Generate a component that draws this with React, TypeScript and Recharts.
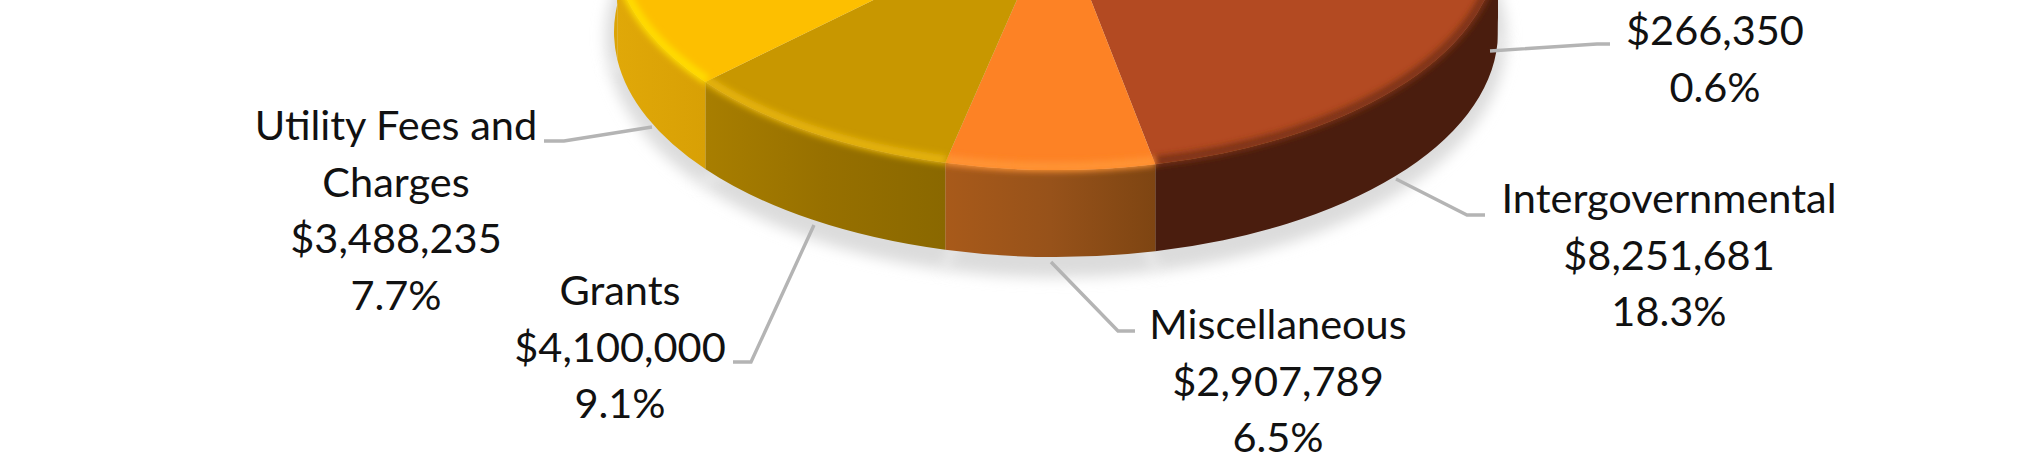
import React from 'react';
import { PieChart, Pie } from 'recharts';

// slices run clockwise starting right of the front of the pie; the last one is the part cut off by the crop
const categories = ['', 'Intergovernmental', 'Miscellaneous', 'Grants', 'Utility Fees and Charges', 'Other'];
const amounts = [266350, 8251681, 2907789, 4100000, 3488235, 26000000];
const amountLabels = ['$266,350', '$8,251,681', '$2,907,789', '$4,100,000', '$3,488,235', ''];
const percentLabels = ['0.6%', '18.3%', '6.5%', '9.1%', '7.7%', ''];

const topColors = ['#B34A22', '#B34A22', '#FD8225', '#C89700', '#FDBF00', '#FDBF00'];
const rimColors = ['#7A3014', '#7A3014', '#FF9436', '#E6B410', '#FFDD00', '#FFDD00'];
const sideStops = [
  [[0, '#4A1D0E'], [1, '#4A1D0E']],
  [[0, '#4A1D0E'], [1, '#4A1D0E']],
  [[0, '#A85A1A'], [0.5, '#97521A'], [1, '#7E4512']],
  [[0, '#A87E00'], [0.5, '#977000'], [1, '#8A6800']],
  [[0, '#E0A808'], [1, '#D8A005']],
  [[0, '#DCA406'], [0.5, '#DCA406'], [0.5, '#4A1D0E'], [1, '#4A1D0E']],
];

const data = categories.map((name, i) => ({ name, amount: amounts[i] }));

const WIDTH = 2028;
const HEIGHT = 472;
const CX = 1056;
const APEX_Y = -89;
const RX = 442;
const CY_TOP = -55;
const CY_BOTTOM = 32;
const RY = 225;
const START_ANGLE = -10.9;

// text blocks: centre x and baseline of the first line
const labelLayout = [
  { x: 1715, y: 45 },
  { x: 1669, y: 213 },
  { x: 1278, y: 339 },
  { x: 620, y: 305 },
  { x: 396, y: 140 },
];
const leaders = [
  '1610,44 1597,44 1490,51',
  '1485,215 1467,215 1396,179',
  '1135,331 1118,331 1051,262',
  '733,362 751,362 814,225',
  '544,141 564,141 652,127',
];

// perspective: the front of the pie looks wider than the back
const warp = (deg: number) => {
  const d = deg + 90;
  return -90 + d + 10.5 * Math.sin((d * Math.PI) / 180);
};

const pt = (deg: number, cy: number, rx: number, ry: number) => {
  const t = (warp(deg) * Math.PI) / 180;
  return `${CX + rx * Math.cos(t)} ${cy - ry * Math.sin(t)}`;
};

const arcTo = (deg: number, cy: number, rx: number, ry: number, large: number, sweep: number) =>
  `A ${rx} ${ry} 0 ${large} ${sweep} ${pt(deg, cy, rx, ry)}`;

const isLarge = (a: number, b: number) => (Math.abs(warp(a) - warp(b)) > 180 ? 1 : 0);

function ShadowShape(props: any) {
  const { startAngle: a, endAngle: b } = props;
  const rx = RX + 8;
  const ry = RY + 15;
  const cy = CY_BOTTOM + 5;
  const d = `M ${CX} ${cy} L ${pt(a, cy, rx, ry)} ${arcTo(b, cy, rx, ry, isLarge(a, b), 1)} Z`;
  return <path d={d} fill="#dcdcdc" stroke="#dcdcdc" filter="url(#soft-shadow)" />;
}

function SideShape(props: any) {
  const { startAngle: a, endAngle: b, index } = props;
  const large = isLarge(a, b);
  const d = [
    `M ${pt(a, CY_TOP, RX, RY)}`,
    arcTo(b, CY_TOP, RX, RY, large, 1),
    `L ${pt(b, CY_BOTTOM, RX, RY)}`,
    arcTo(a, CY_BOTTOM, RX, RY, large, 0),
    'Z',
  ].join(' ');
  return <path d={d} fill={`url(#side-${index})`} />;
}

function TopShape(props: any) {
  const { startAngle: a, endAngle: b, index } = props;
  const large = isLarge(a, b);
  const face = `M ${CX} ${APEX_Y} L ${pt(a, CY_TOP, RX, RY)} ${arcTo(b, CY_TOP, RX, RY, large, 1)} Z`;
  const rim = `M ${pt(a, CY_TOP, RX - 2, RY - 3)} ${arcTo(b, CY_TOP, RX - 2, RY - 3, large, 1)}`;
  return (
    <g>
      <path d={face} fill={topColors[index]} />
      <path d={rim} fill="none" stroke={rimColors[index]} strokeWidth={9} filter="url(#soft-rim)" />
    </g>
  );
}

function renderLabel(props: any) {
  const layout = labelLayout[props.index];
  if (!layout) return null;
  const i = props.index;
  const names = i === 4 ? ['Utility Fees and', 'Charges'] : [categories[i]];
  const rows = i === 0 ? [amountLabels[i], percentLabels[i]] : [...names, amountLabels[i], percentLabels[i]];
  return (
    <g>
      <polyline points={leaders[i]} fill="none" stroke="#b4b4b4" strokeWidth={3.4} />
      <text textAnchor="middle" fontFamily="Lato" fontSize={41.5} fill="#111111">
        {rows.map((row, r) => (
          <tspan key={r} x={layout.x} y={layout.y + r * 56.5}>
            {row}
          </tspan>
        ))}
      </text>
    </g>
  );
}

export default function App() {
  const pieProps = {
    data,
    dataKey: 'amount',
    nameKey: 'name',
    cx: CX,
    cy: CY_TOP,
    outerRadius: RX,
    startAngle: START_ANGLE,
    endAngle: START_ANGLE - 360,
    stroke: 'none',
    isAnimationActive: false,
    labelLine: false,
  };
  return (
    <div style={{ position: 'absolute', left: 0, top: 0, width: WIDTH, height: HEIGHT, background: '#fff' }}>
      <PieChart width={WIDTH} height={HEIGHT} margin={{ top: 0, right: 0, bottom: 0, left: 0 }}>
        <defs>
          <filter id="soft-shadow" filterUnits="userSpaceOnUse" x={0} y={-400} width={WIDTH} height={900}>
            <feGaussianBlur stdDeviation={7} />
          </filter>
          <filter id="soft-rim" filterUnits="userSpaceOnUse" x={0} y={-400} width={WIDTH} height={900}>
            <feGaussianBlur stdDeviation={3} />
          </filter>
          {sideStops.map((stops, i) => (
            <linearGradient key={i} id={`side-${i}`} x1="0" y1="0" x2="1" y2="0">
              {stops.map(([offset, color], s) => (
                <stop key={s} offset={offset as number} stopColor={color as string} />
              ))}
            </linearGradient>
          ))}
        </defs>
        <Pie {...pieProps} shape={ShadowShape} activeShape={ShadowShape} inactiveShape={ShadowShape} />
        <Pie {...pieProps} shape={SideShape} activeShape={SideShape} inactiveShape={SideShape} />
        <Pie {...pieProps} shape={TopShape} activeShape={TopShape} inactiveShape={TopShape} label={renderLabel} />
      </PieChart>
    </div>
  );
}
